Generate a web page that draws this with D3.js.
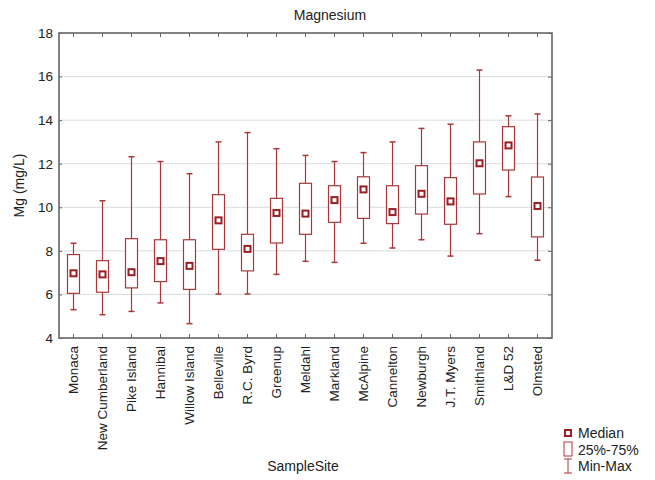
<!DOCTYPE html>
<html><head><meta charset="utf-8">
<script src="https://cdn.jsdelivr.net/npm/d3@7/dist/d3.min.js"></script>
<style>body{margin:0;background:#fff;} text{font-family:"Liberation Sans",Arial,sans-serif;}</style>
</head><body><svg id="c" width="655" height="480"></svg>
<script>
const sites = ["Monaca","New Cumberland","Pike Island","Hannibal","Willow Island","Belleville","R.C. Byrd","Greenup","Meldahl","Markland","McAlpine","Cannelton","Newburgh","J.T. Myers","Smithland","L&D 52","Olmsted"];
const minVals = [5.30,5.07,5.22,5.61,4.66,6.02,6.02,6.92,7.52,7.47,8.35,8.13,8.51,7.76,8.79,10.49,7.57];
const q1Vals  = [6.05,6.10,6.30,6.59,6.23,8.07,7.08,8.36,8.76,9.31,9.49,9.25,9.69,9.22,10.61,11.71,8.64];
const medVals = [6.97,6.92,7.02,7.53,7.31,9.40,8.09,9.74,9.71,10.33,10.82,9.78,10.62,10.27,12.02,12.84,10.06];
const q3Vals  = [7.83,7.55,8.56,8.51,8.51,10.58,8.76,10.41,11.10,10.99,11.40,10.99,11.91,11.36,13.00,13.70,11.39];
const maxVals = [8.35,10.30,12.32,12.10,11.54,13.00,13.43,12.69,12.38,12.10,12.51,13.00,13.62,13.81,16.30,14.20,14.28];
const yTicks = [4,6,8,10,12,14,16,18];

const svg = d3.select("#c");
const L=59,R=552,T=33,B=338;
const x = d3.scaleBand().domain(sites).range([L,R]).padding(0);
const y = d3.scaleLinear().domain([4,18]).range([B,T]);
const lineCol="#a8383a", medCol="#9a1f24", axisCol="#666";

// grid
svg.append("g").selectAll("line").data(yTicks.filter(d=>d>4&&d<18)).join("line")
  .attr("x1",L).attr("x2",R).attr("y1",d=>y(d)).attr("y2",d=>y(d))
  .attr("stroke","#dcdcdc").attr("stroke-width",1);

// axes with inward ticks
const gL = svg.append("g").attr("transform",`translate(${L},0)`)
  .call(d3.axisLeft(y).tickValues(yTicks).tickSize(0).tickPadding(6).tickFormat(d3.format("d")));
gL.select(".domain").remove();
gL.selectAll("text").attr("font-size",13.5).attr("fill","#222");
const gL2 = svg.append("g").attr("transform",`translate(${L},0)`)
  .call(d3.axisRight(y).tickValues(yTicks).tickSize(3).tickFormat(""));
gL2.select(".domain").remove();
gL2.selectAll("line").attr("stroke",axisCol);
const gR = svg.append("g").attr("transform",`translate(${R},0)`)
  .call(d3.axisLeft(y).tickValues(yTicks).tickSize(4).tickFormat(""));
gR.select(".domain").remove();
gR.selectAll("line").attr("stroke",axisCol);
const gT = svg.append("g").attr("transform",`translate(0,${T})`)
  .call(d3.axisBottom(x).tickSize(4).tickFormat(""));
gT.select(".domain").remove();
gT.selectAll("line").attr("stroke",axisCol);
const gB = svg.append("g").attr("transform",`translate(0,${B})`)
  .call(d3.axisTop(x).tickSize(4).tickFormat(""));
gB.select(".domain").remove();
gB.selectAll("line").attr("stroke",axisCol);

// category labels
const gX = svg.append("g").attr("transform",`translate(0,${B})`)
  .call(d3.axisBottom(x).tickSize(0).tickPadding(0));
gX.select(".domain").remove();
gX.selectAll("text").attr("font-size",13.5).attr("fill","#222")
  .attr("transform","rotate(-90)").attr("text-anchor","end")
  .attr("x",-8).attr("y",0).attr("dy","0.35em");

// frame
svg.append("rect").attr("x",L).attr("y",T).attr("width",R-L).attr("height",B-T)
  .attr("fill","none").attr("stroke",axisCol).attr("stroke-width",1.6);

// boxes
const data = sites.map((s,i)=>({s,min:minVals[i],q1:q1Vals[i],med:medVals[i],q3:q3Vals[i],max:maxVals[i]}));
const cx = d=>x(d.s)+x.bandwidth()/2;
const g = svg.append("g");
g.selectAll(".wh").data(data).join("line")
  .attr("x1",cx).attr("x2",cx).attr("y1",d=>y(d.max)).attr("y2",d=>y(d.min))
  .attr("stroke",lineCol).attr("stroke-width",1.2);
g.selectAll(".capT").data(data).join("line")
  .attr("x1",d=>cx(d)-3).attr("x2",d=>cx(d)+3).attr("y1",d=>y(d.max)).attr("y2",d=>y(d.max))
  .attr("stroke",lineCol).attr("stroke-width",1.5);
g.selectAll(".capB").data(data).join("line")
  .attr("x1",d=>cx(d)-3).attr("x2",d=>cx(d)+3).attr("y1",d=>y(d.min)).attr("y2",d=>y(d.min))
  .attr("stroke",lineCol).attr("stroke-width",1.5);
g.selectAll(".box").data(data).join("rect")
  .attr("x",d=>cx(d)-6).attr("width",12).attr("y",d=>y(d.q3)).attr("height",d=>y(d.q1)-y(d.q3))
  .attr("fill","#fff").attr("stroke",lineCol).attr("stroke-width",1.2);
g.selectAll(".med").data(data).join("rect")
  .attr("x",d=>cx(d)-3).attr("width",6).attr("y",d=>y(d.med)-3).attr("height",6)
  .attr("fill","#fff").attr("stroke",medCol).attr("stroke-width",2);

// titles
svg.append("text").attr("x",330).attr("y",20).attr("text-anchor","middle").attr("font-size",14).attr("fill","#222").text("Magnesium");
svg.append("text").attr("x",303).attr("y",471).attr("text-anchor","middle").attr("font-size",14).attr("fill","#222").text("SampleSite");
svg.append("text").attr("transform",`translate(24,${(T+B)/2}) rotate(-90)`).attr("text-anchor","middle").attr("font-size",14).attr("fill","#222").text("Mg (mg/L)");

// legend
const lg = svg.append("g").attr("transform","translate(568,0)");
lg.append("rect").attr("x",-3).attr("y",430).attr("width",6).attr("height",6).attr("fill","#fff").attr("stroke",medCol).attr("stroke-width",2);
lg.append("rect").attr("x",-4).attr("y",442).attr("width",8).attr("height",14).attr("fill","#fff").attr("stroke",lineCol).attr("stroke-width",1);
lg.append("line").attr("x1",0).attr("x2",0).attr("y1",459).attr("y2",473).attr("stroke",lineCol);
lg.append("line").attr("x1",-4).attr("x2",4).attr("y1",459).attr("y2",459).attr("stroke",lineCol);
lg.append("line").attr("x1",-4).attr("x2",4).attr("y1",473).attr("y2",473).attr("stroke",lineCol);
const lt = [["Median",438],["25%-75%",455],["Min-Max",471]];
lg.selectAll("text.l").data(lt).join("text").attr("x",10).attr("y",d=>d[1]).attr("font-size",14).attr("fill","#222").text(d=>d[0]);
</script></body></html>
